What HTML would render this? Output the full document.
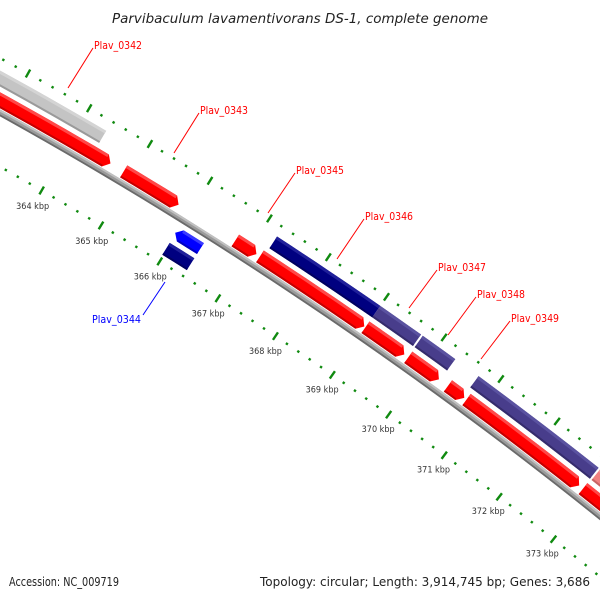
<!DOCTYPE html>
<html><head><meta charset="utf-8"><title>Genome map</title>
<style>
html,body{margin:0;padding:0;background:#fff;overflow:hidden;}
svg{display:block;}
text{font-family:"DejaVu Sans","Liberation Sans",sans-serif;}
</style></head>
<body>
<svg id="chart" width="600" height="600" viewBox="0 0 600 600" xmlns="http://www.w3.org/2000/svg">
<rect width="600" height="600" fill="#fff"/>
<text x="300" y="23" text-anchor="middle" font-size="13" font-style="italic" fill="#222" textLength="376" lengthAdjust="spacingAndGlyphs">Parvibaculum lavamentivorans DS-1, complete genome</text>
<g id="ticks"></g>
<g id="backbone"></g>
<g id="genes"></g>
<g id="labels" font-size="11">
  <g><line x1="68" y1="88" x2="93" y2="48" stroke="#f00" stroke-width="1"/><text x="94" y="49" fill="#f00" textLength="48" lengthAdjust="spacingAndGlyphs">Plav_0342</text></g>
  <g><line x1="174" y1="153" x2="199" y2="113" stroke="#f00" stroke-width="1"/><text x="200" y="114" fill="#f00" textLength="48" lengthAdjust="spacingAndGlyphs">Plav_0343</text></g>
  <g><line x1="268" y1="213" x2="295" y2="173" stroke="#f00" stroke-width="1"/><text x="296" y="174" fill="#f00" textLength="48" lengthAdjust="spacingAndGlyphs">Plav_0345</text></g>
  <g><line x1="337" y1="259" x2="364" y2="219" stroke="#f00" stroke-width="1"/><text x="365" y="220" fill="#f00" textLength="48" lengthAdjust="spacingAndGlyphs">Plav_0346</text></g>
  <g><line x1="409" y1="308" x2="437" y2="270" stroke="#f00" stroke-width="1"/><text x="438" y="271" fill="#f00" textLength="48" lengthAdjust="spacingAndGlyphs">Plav_0347</text></g>
  <g><line x1="448" y1="335" x2="476" y2="297" stroke="#f00" stroke-width="1"/><text x="477" y="298" fill="#f00" textLength="48" lengthAdjust="spacingAndGlyphs">Plav_0348</text></g>
  <g><line x1="481" y1="359" x2="510" y2="321" stroke="#f00" stroke-width="1"/><text x="511" y="322" fill="#f00" textLength="48" lengthAdjust="spacingAndGlyphs">Plav_0349</text></g>
  <g><line x1="143" y1="315" x2="165" y2="282" stroke="#00f" stroke-width="1"/><text x="92" y="323" fill="#00f" textLength="49" lengthAdjust="spacingAndGlyphs">Plav_0344</text></g>
</g>
<text x="9" y="586" font-size="12" fill="#222" textLength="110" lengthAdjust="spacingAndGlyphs">Accession: NC_009719</text>
<text x="260" y="586" font-size="12" fill="#222" textLength="330" lengthAdjust="spacingAndGlyphs">Topology: circular; Length: 3,914,745 bp; Genes: 3,686</text>
</svg>
<script>
// ---- data (kbp) ----
const geneStarts = [360.0, 364.88, 366.76, 367.18, 369.00, 369.75, 370.45, 370.78, 372.88, 360.0, 367.23, 369.00, 369.74, 370.72, 372.90, 365.97, 365.98];
const geneEnds   = [364.66, 365.80, 367.12, 368.98, 369.68, 370.29, 370.74, 372.81, 375.0, 364.37, 369.00, 369.71, 370.31, 372.87, 375.0, 366.40, 366.40];
const geneRows   = ["B","B","B","B","B","B","B","B","B","A","A","A","A","A","A","C","D"];
const geneArrows = ["end","end","end","end","end","end","end","end","end","none","none","none","none","none","none","start","none"];
const geneColors = ["red","red","red","red","red","red","red","red","red","gray","navy","purple","purple","purple","pink","blue","navy"];
const majorTicks = [361,362,363,364,365,366,367,368,369,370,371,372,373,374];
const tickLabels = ["361 kbp","362 kbp","363 kbp","364 kbp","365 kbp","366 kbp","367 kbp","368 kbp","369 kbp","370 kbp","371 kbp","372 kbp","373 kbp"];

// ---- geometry ----
const NS = "http://www.w3.org/2000/svg";
const CX = -2065, CY = 3832, R0 = 4254;
const DEG0 = -59.95, DEG_PER_KBP = 0.938, REF_KBP = 364;
const rowRadii = {A:[R0+23,R0+37], B:[R0+4,R0+18], C:[R0-21,R0-8], D:[R0-40,R0-26]};
const palette = {
  red:{fill:"#ff0000",hi:"#ff4848",lo:"#c40000"},
  gray:{fill:"#c4c4c4",hi:"#d4d4d4",lo:"#9a9a9a"},
  navy:{fill:"#000080",hi:"#20209a",lo:"#000060"},
  purple:{fill:"#483d8b",hi:"#5a52a0",lo:"#352c6c"},
  pink:{fill:"#f08080",hi:"#f49a9a",lo:"#c86464"},
  blue:{fill:"#0000ff",hi:"#3a3aff",lo:"#0000c0"}
};
function ang(k){ return (DEG0 + (k-REF_KBP)*DEG_PER_KBP) * Math.PI/180; }
function pt(k,r){ const a=ang(k); return [CX + r*Math.cos(a), CY + r*Math.sin(a)]; }
function f(p){ return p[0].toFixed(2)+","+p[1].toFixed(2); }
function arcPts(k1,k2,r,n){ const o=[]; for(let i=0;i<=n;i++){ o.push(pt(k1+(k2-k1)*i/n, r)); } return o; }
function pxToKbp(px,r){ return px / (r*DEG_PER_KBP*Math.PI/180); }

// ticks
const tickG = document.getElementById("ticks");
function tick(k, r, major){
  const len = major ? 4.5 : 1.2;
  const a = pt(k, r-len), b = pt(k, r+len);
  const l = document.createElementNS(NS,"line");
  
  
  l.setAttribute("x1",a[0]); l.setAttribute("y1",a[1]);
  l.setAttribute("x2",b[0]); l.setAttribute("y2",b[1]);
  l.setAttribute("stroke","#108a10"); l.setAttribute("stroke-width", 2.4);
  tickG.appendChild(l);
}
const rOut = R0+48, rIn = R0-47;
majorTicks.forEach((m,i)=>{
  for(let j=0;j<5;j++){
    const k = m + j*0.2;
    tick(k, rOut, j===0);
    tick(k, rIn, j===0);
  }
  if(tickLabels[i] === undefined) return;
  const p = pt(m, rIn-18);
  const t = document.createElementNS(NS,"text");
  
  
  t.setAttribute("x",p[0]); t.setAttribute("y",p[1]+3);
  t.setAttribute("text-anchor","middle"); t.setAttribute("font-size","9"); t.setAttribute("fill","#333");
  t.setAttribute("textLength","33"); t.setAttribute("lengthAdjust","spacingAndGlyphs");
  t.textContent = tickLabels[i];
  tickG.appendChild(t);
});

// backbone
const bb = document.getElementById("backbone");
function arcPath(r){ const ps = arcPts(358, 377, r, 60); return "M"+ps.map(f).join(" L"); }
[[R0,"#9a9a9a",6],[R0+2,"#c0c0c0",2],[R0-2.2,"#6a6a6a",1.8]].forEach(s=>{
  const p = document.createElementNS(NS,"path");
  
  
  p.setAttribute("d", arcPath(s[0])); p.setAttribute("fill","none");
  p.setAttribute("stroke", s[1]); p.setAttribute("stroke-width", s[2]);
  bb.appendChild(p);
});

// genes
const gG = document.getElementById("genes");
function genePath(k1,k2,r1,r2,arrow){
  const h = pxToKbp(6,(r1+r2)/2), rm=(r1+r2)/2;
  let s=k1, e=k2, pts=[];
  if(arrow==="end"){ e=k2-h; }
  if(arrow==="start"){ s=k1+h; }
  const n = Math.max(2, Math.ceil((e-s)*4));
  pts = pts.concat(arcPts(s,e,r2,n));
  if(arrow==="end") pts.push(pt(k2,rm));
  pts = pts.concat(arcPts(e,s,r1,n));
  if(arrow==="start") pts.push(pt(k1,rm));
  return "M"+pts.map(f).join(" L")+" Z";
}
geneStarts.forEach((s,i)=>{
  const e = geneEnds[i], rr = rowRadii[geneRows[i]], c = palette[geneColors[i]], ar = geneArrows[i];
  const g = document.createElementNS(NS,"g");
  
  
  const main = document.createElementNS(NS,"path");
  
  
  main.setAttribute("d", genePath(s,e,rr[0],rr[1],ar)); main.setAttribute("fill", c.fill);
  g.appendChild(main);
  const h = pxToKbp(6,(rr[0]+rr[1])/2);
  const hs = ar==="start" ? s+h : s, he = ar==="end" ? e-h : e;
  const hi = document.createElementNS(NS,"path");
  
  
  hi.setAttribute("d", genePath(hs,he,rr[1]-3,rr[1],"none")); hi.setAttribute("fill", c.hi);
  g.appendChild(hi);
  const lo = document.createElementNS(NS,"path");
  
  
  lo.setAttribute("d", genePath(hs,he,rr[0],rr[0]+2,"none")); lo.setAttribute("fill", c.lo);
  g.appendChild(lo);
  gG.appendChild(g);
});
</script>
</body></html>
